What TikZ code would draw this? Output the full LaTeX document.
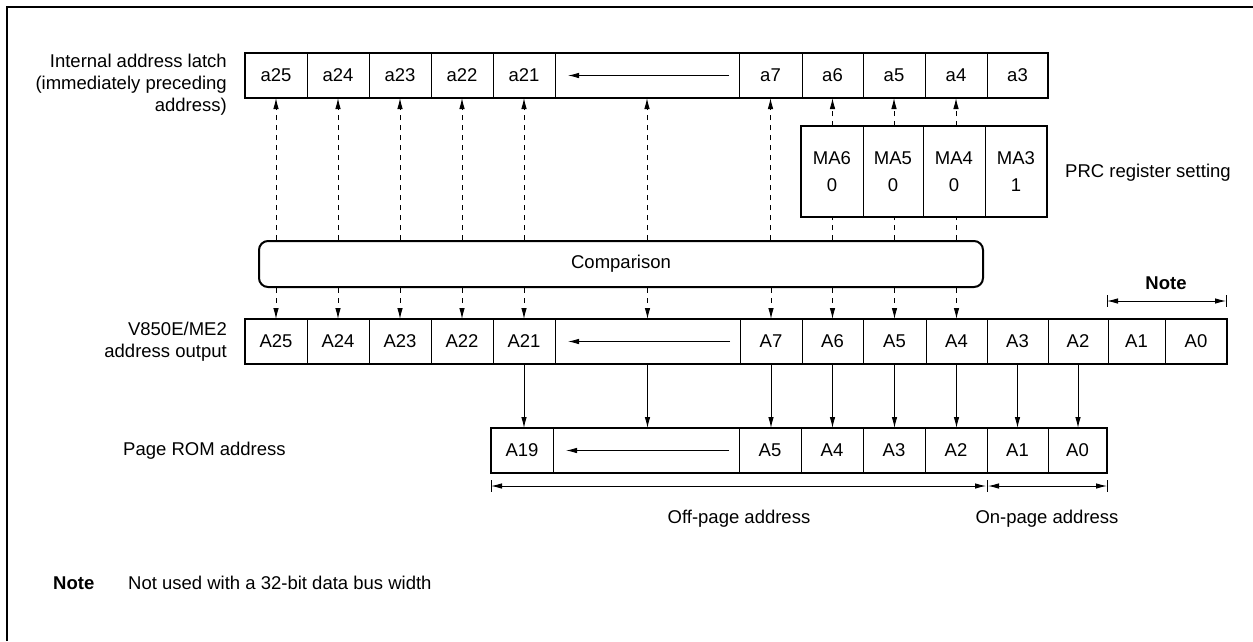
\documentclass[tikz,border=0pt]{standalone}
\usepackage{fontspec}
\setmainfont{Liberation Sans}
\usetikzlibrary{arrows.meta,fit}
\begin{document}
\begin{tikzpicture}[x=1pt,y=-1pt,
  font=\fontsize{18.5}{22}\selectfont,
  cell/.style={draw, line width=0.9pt, inner sep=0pt, outer sep=0pt, minimum height=45pt, anchor=center},
  outer/.style={draw, line width=2pt, inner sep=0pt, outer sep=0pt},
  tip/.style={-{Latex[length=11pt,width=5.5pt]}},
  both/.style={{Latex[length=11pt,width=5.5pt]}-{Latex[length=11pt,width=5.5pt]}},
  dsh/.style={line width=0.9pt, dash pattern=on 5pt off 5pt},
  sol/.style={line width=0.9pt},
  lbl/.style={align=right, anchor=east, inner sep=0pt},
]
\useasboundingbox (0,0) rectangle (1253,641);
% frame
\draw[line width=2.5pt] (6.8,641) -- (6.8,6.8) -- (1253,6.8);

% top row: internal address latch
\foreach \l/\r/\t [count=\i] in {245/307/a25,307/369/a24,369/431/a23,431/493/a22,493/555/a21,555/739/{},739/802/a7,802/863/a6,863/925/a5,925/987/a4,987/1048/a3}
  \node[cell, minimum width={(\r-\l)*1pt}] (t\i) at ({(\l+\r)/2},75.5) {\t};
\node[outer, fit=(t1)(t11)] (top) {};
\draw[sol,tip] ([xshift=-10pt]t6.east) -- ([xshift=13pt]t6.west);

% MA register
\foreach \l/\r/\t [count=\i] in {801/863/{MA6\\[5pt]0},863/923/{MA5\\[5pt]0},923/985/{MA4\\[5pt]0},985/1047/{MA3\\[5pt]1}}
  \node[cell, align=center, minimum height=91pt, minimum width={(\r-\l)*1pt}] (m\i) at ({(\l+\r)/2},171.5) {\t};
\node[outer, fit=(m1)(m4)] (mreg) {};

% comparison
\node[draw, line width=2pt, rounded corners=9pt, minimum width=724pt, minimum height=46pt, inner sep=0pt] (comp) at (621,264) {Comparison};

% address output row
\foreach \l/\r/\t [count=\i] in {245/307/A25,307/369/A24,369/431/A23,431/493/A22,493/555/A21,555/740/{},740/802/A7,802/863/A6,863/926/A5,926/987/A4,987/1048/A3,1048/1108/A2,1108/1165/A1,1165/1227/A0}
  \node[cell, minimum width={(\r-\l)*1pt}] (b\i) at ({(\l+\r)/2},341.5) {\t};
\node[outer, fit=(b1)(b14)] (addr) {};
\draw[sol,tip] ([xshift=-10pt]b6.east) -- ([xshift=13pt]b6.west);

% page ROM row
\foreach \l/\r/\t [count=\i] in {491/553/A19,553/739/{},739/801/A5,801/863/A4,863/925/A3,925/987/A2,987/1048/A1,1048/1107/A0}
  \node[cell, minimum width={(\r-\l)*1pt}] (p\i) at ({(\l+\r)/2},450.5) {\t};
\node[outer, fit=(p1)(p8)] (page) {};
\draw[sol,tip] ([xshift=-10pt]p2.east) -- ([xshift=13pt]p2.west);

% dashed arrows up to latch
\foreach \i in {1,...,7}
  \draw[dsh,tip] (t\i |- comp.north) -- (t\i.south);
\foreach \i in {8,9,10}{
  \draw[dsh,tip] (t\i |- mreg.north) -- (t\i.south);
  \draw[dsh] (t\i |- comp.north) -- (t\i |- mreg.south);
}
% dashed arrows down to address output
\foreach \i in {1,...,10}
  \draw[dsh,tip] (b\i |- comp.south) -- (b\i.north);
% solid arrows to page ROM address
\foreach \i/\j in {5/1,6/2,7/3,8/4,9/5,10/6,11/7,12/8}
  \draw[sol,tip] (b\i.south) -- (b\i.south |- p\j.north);

% Note dimension
\coordinate (n1) at (1107,301);
\coordinate (n2) at (1226,301);
\draw[sol] ([yshift=6pt]n1) -- ([yshift=-6pt]n1);
\draw[sol] ([yshift=6pt]n2) -- ([yshift=-6pt]n2);
\draw[sol,both] (n1) -- (n2);
\node[font=\fontsize{18.5}{22}\selectfont\bfseries] (notelbl) at (1166,283) {Note};

% page dimensions
\coordinate (o1) at (491,486);
\coordinate (o2) at (987,486);
\coordinate (o3) at (1107,486);
\foreach \c in {o1,o2,o3}
  \draw[sol] ([yshift=6pt]\c) -- ([yshift=-6pt]\c);
\draw[sol,both] (o1) -- ([xshift=-1pt]o2);
\draw[sol,both] ([xshift=1pt]o2) -- (o3);
\node (offlbl) at (739,519) {Off-page address};
\node (onlbl) at (1047,519) {On-page address};

% left labels
\node[lbl] (l1) at (227,85) {Internal address latch\\(immediately preceding\\address)};
\node[lbl] (l2) at (227,342) {V850E/ME2\\address output};
\node[anchor=west, inner sep=0pt] (l3) at (123,451) {Page ROM address};
\node[anchor=west, inner sep=0pt] (l4) at (1065,173) {PRC register setting};

% footnote
\node[anchor=west, inner sep=0pt, font=\fontsize{18.5}{22}\selectfont\bfseries] (fn1) at (53,583) {Note};
\node[anchor=west, inner sep=0pt] (fn2) at (128,583) {Not used with a 32-bit data bus width};
\end{tikzpicture}
\end{document}
